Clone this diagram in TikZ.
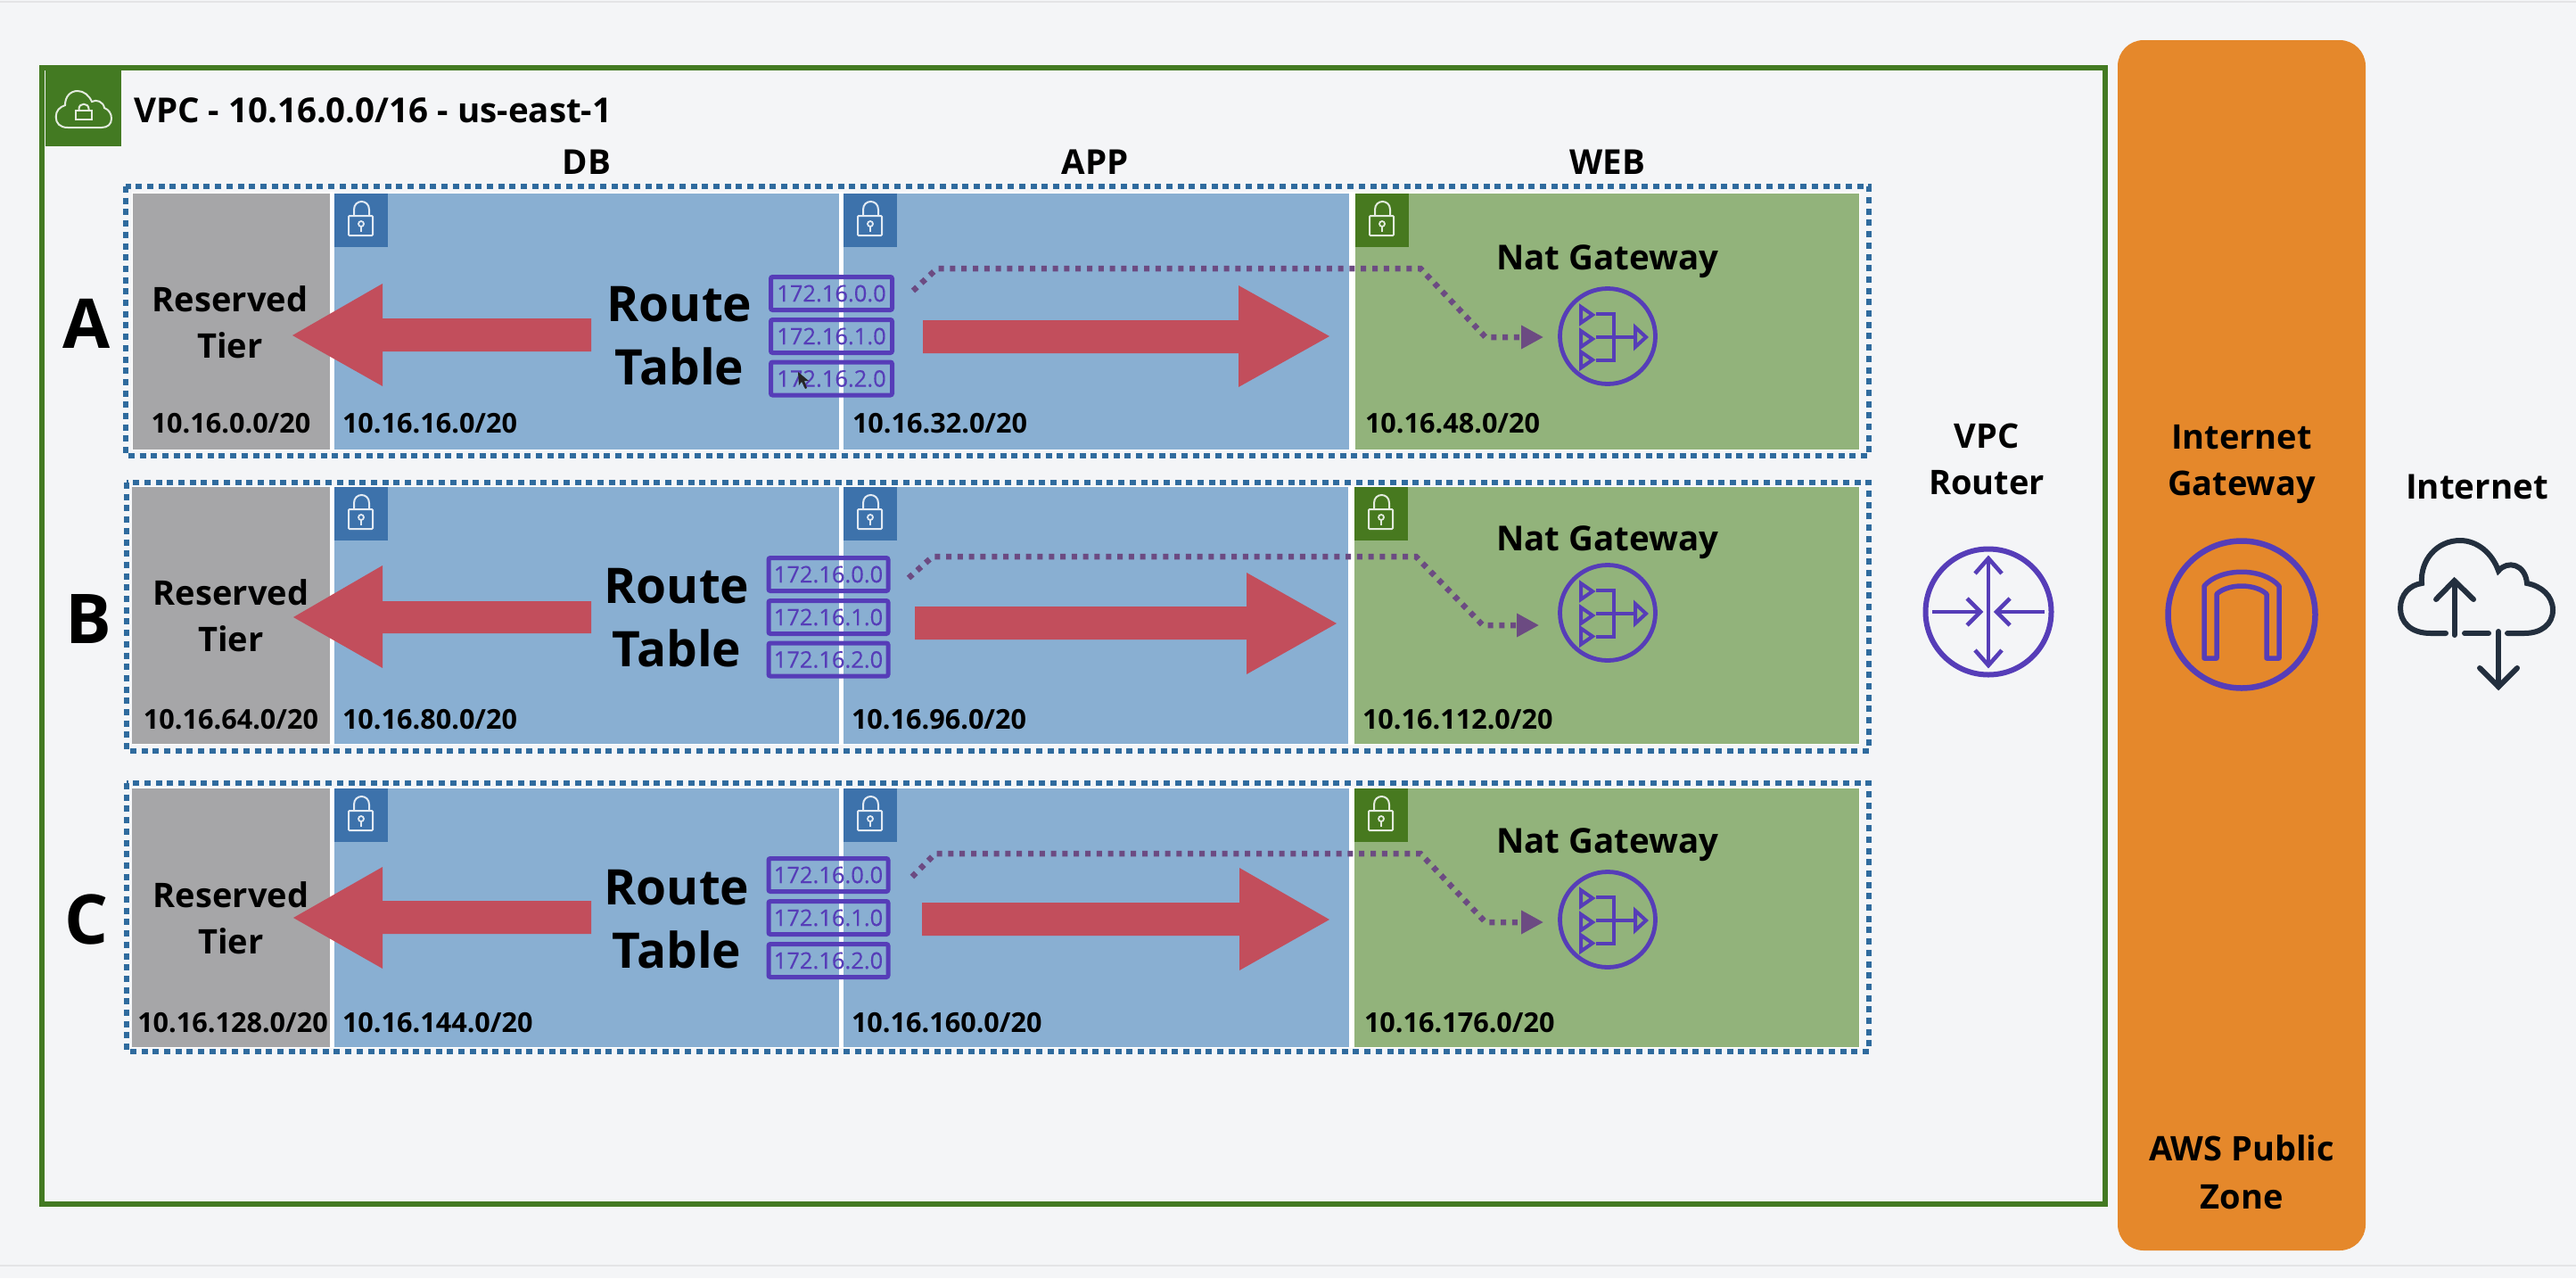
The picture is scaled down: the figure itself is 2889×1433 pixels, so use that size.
\documentclass[tikz,border=0pt]{standalone}
\usepackage{fontspec}
\setmainfont{Open Sans}
\newfontfamily\rtfont[FakeBold=0.35]{Open Sans}
\usetikzlibrary{arrows.meta}
\definecolor{pagebg}{HTML}{F4F5F7}
\definecolor{rulegray}{HTML}{E4E4E6}
\definecolor{vpcgreen}{HTML}{437A22}
\definecolor{rowblue}{HTML}{2F6B9E}
\definecolor{fillblue}{HTML}{89AFD2}
\definecolor{fillgreen}{HTML}{92B37B}
\definecolor{fillgray}{HTML}{A6A6A8}
\definecolor{lockblue}{HTML}{3D72AB}
\definecolor{lockgreen}{HTML}{47791F}
\definecolor{fatred}{HTML}{C24E5C}
\definecolor{awspurple}{HTML}{563DB8}
\definecolor{routepurple}{HTML}{6C4B82}
\definecolor{awsorange}{HTML}{E5882B}
\definecolor{inkdark}{HTML}{232F3E}
\newcommand{\fsz}[2]{\fontsize{#1}{#2}\selectfont}
\tikzset{
  x=1pt,y=-1pt,
  lbl/.style={inner sep=0pt,outer sep=0pt,text=black,font=\bfseries\fsz{#1}{#1}},
  lblbase/.style={lbl=#1,anchor=base},
  lblwest/.style={lbl=#1,anchor=base west},
  twoline/.style 2 args={inner sep=0pt,outer sep=0pt,text=black,align=center,font=\bfseries\fsz{#1}{#2}},
  rowdots/.style={draw=rowblue,line width=6pt,dash pattern=on 7pt off 5.7pt},
  sep/.style={fill=white},
  fatarrow/.style={fill=fatred},
  rtbox/.style={draw=awspurple,line width=5pt,minimum width=#1,minimum height=37pt,inner sep=0pt,rounded corners=2pt,text=awspurple,font=\rtfont\fsz{25.5}{25.5}},
  natring/.style={circle,draw=awspurple,line width=4.8pt,minimum size=107pt,inner sep=0pt},
  ring/.style={circle,draw=awspurple,line width=#1,inner sep=0pt},
  glyph/.style={draw=awspurple,line width=4.6pt},
  routeline/.style={draw=routepurple,line width=6.5pt,dash pattern=on 6pt off 6.8pt},
  pics/lockbox/.style={code={
    \fill[#1] (0,0) rectangle (60,60);
    \draw[white!85!#1,line width=2pt,rounded corners=1pt] (16,25) rectangle (43,47);
    \draw[white!85!#1,line width=2pt] (22,25) -- (22,18) .. controls (22,6) and (39,6) .. (39,18) -- (39,25);
    \draw[white!85!#1,line width=1.8pt] (30,34) circle (3);
    \draw[white!85!#1,line width=1.8pt] (30,37) -- (30,43);
  }},
  pics/natglyph/.style={code={
    \draw[glyph,line width=4pt,line join=miter] (-30,-33) -- (-17,-24) -- (-30,-15) -- cycle;
    \draw[glyph,line width=4pt,line join=miter] (-30,-6) -- (-17,3) -- (-30,12) -- cycle;
    \draw[glyph,line width=4pt,line join=miter] (-30,17.5) -- (-17,26.5) -- (-30,35.5) -- cycle;
    \draw[glyph,line width=4pt,line join=miter] (31,-10) -- (43,1) -- (31,12) -- cycle;
    \draw[glyph] (-13,-25) -- (7,-25) -- (7,27) -- (-13,27);
    \draw[glyph] (-13,1) -- (31,1);
  }},
}
\begin{document}
\begin{tikzpicture}
\useasboundingbox (0,0) rectangle (2889,1433);
\fill[pagebg] (0,0) rectangle (2889,1433);
\draw[rulegray,line width=2.5pt] (0,2) -- (2889,2);
\draw[rulegray,line width=2.5pt] (0,1419) -- (2889,1419);

% public zone
\fill[awsorange,rounded corners=29pt] (2375,45) rectangle (2653,1402);

% VPC frame and badge
\draw[vpcgreen,line width=6pt] (47,75.5) rectangle (2361,1350);
\fill[vpcgreen] (51,79) rectangle (136,164);
\draw[white!85!vpcgreen,line width=2pt] (76,143) .. controls (67,143) and (62.7,138) .. (62.7,131) .. controls (62.7,124) and (67,120) .. (73,118) .. controls (73,108) and (79,102) .. (87,102) .. controls (94,102) and (100,107) .. (103,114) .. controls (108,111) and (116,114) .. (117,121) .. controls (122,123) and (125,127) .. (125,133) .. controls (125,139) and (121,143) .. (114,143) -- cycle;
\draw[white!85!vpcgreen,line width=2pt] (85,124) rectangle (103,134);
\draw[white!85!vpcgreen,line width=2pt] (88.5,124) -- (88.5,122) .. controls (88.5,115) and (99.5,115) .. (99.5,122) -- (99.5,124);
\node[lblwest=38.5] (vpctitle) at (150,137) {VPC - 10.16.0.0/16 - us-east-1};
\node[lblbase=38.5] (hdb) at (658,195) {DB};
\node[lblbase=38.5] (happ) at (1228,195) {APP};
\node[lblbase=38.5] (hweb) at (1803,195) {WEB};

% ---------- row A
\draw[rowdots] (141,209) rectangle (2096,511);
\fill[sep] (148,215) rectangle (2086,505);
\fill[fillgray] (149,216.5) rectangle (370,504);
\fill[fillblue] (375,216.5) rectangle (941,504);
\fill[fillblue] (946,216.5) rectangle (1513,504);
\fill[fillgreen] (1520,216.5) rectangle (2085,504);
\pic at (375,217) {lockbox=lockblue};
\pic at (946,217) {lockbox=lockblue};
\pic at (1520,217) {lockbox=lockgreen};
\node[lblbase=77] (rowa) at (97,390) {A};
\node[twoline={38}{52}] (resa) at (258,361) {Reserved\\Tier};
\node[twoline={55}{71}] (rta) at (762,377) {Route\\Table};
\fill[fatarrow] (328,376) -- (429,318) -- (429,357) -- (663,357) -- (663,394) -- (429,394) -- (429,433) -- cycle;
\fill[fatarrow] (1035,359) -- (1389,359) -- (1389,320) -- (1491,377) -- (1389,434) -- (1389,396) -- (1035,396) -- cycle;
\node[rtbox=136pt] (rta1) at (932.5,329) {172.16.0.0};
\node[rtbox=136pt] (rta2) at (932.5,377) {172.16.1.0};
\node[rtbox=136pt] (rta3) at (932.5,424.5) {172.16.2.0};
\fill[black!85] (895,417) -- (896,432) -- (899,428) -- (903,436) -- (905,435) -- (902,427) -- (907,427) -- cycle;
\node[lblbase=38.5] (nata) at (1803,302) {Nat Gateway};
\node[natring] (nicona) at (1803,377) {};
\pic at (nicona) {natglyph};
\coordinate (aa) at (1024,326);
\coordinate (ab) at (1051,301);
\coordinate (ac) at (1593,301);
\coordinate (ad) at (1666,378);
\draw[routeline,-{Triangle[width=25pt,length=25pt]},shorten >=16pt] (aa) -- (ab) -- (ac) -- (ad) -- (ad -| nicona.west);
\node[lblbase=30.6] at (259,485) {10.16.0.0/20};
\node[lblwest=30.6] at (384,485) {10.16.16.0/20};
\node[lblwest=30.6] at (956,485) {10.16.32.0/20};
\node[lblwest=30.6] at (1531,485) {10.16.48.0/20};

% ---------- row B
\draw[rowdots] (142,541) rectangle (2096,842);
\fill[sep] (148,545) rectangle (2086,835);
\fill[fillgray] (148,546) rectangle (370,834);
\fill[fillblue] (375,546) rectangle (941,834);
\fill[fillblue] (946,546) rectangle (1512,834);
\fill[fillgreen] (1519,546) rectangle (2085,834);
\pic at (375,546) {lockbox=lockblue};
\pic at (946,546) {lockbox=lockblue};
\pic at (1519,546) {lockbox=lockgreen};
\node[lblbase=77] (rowb) at (99,721) {B};
\node[twoline={38}{52}] (resb) at (259,690) {Reserved\\Tier};
\node[twoline={55}{71}] (rtb) at (759,693) {Route\\Table};
\fill[fatarrow] (329,692) -- (429,634) -- (429,674) -- (663,674) -- (663,710) -- (429,710) -- (429,749) -- cycle;
\fill[fatarrow] (1026,680) -- (1398,680) -- (1398,642) -- (1499,699) -- (1398,756) -- (1398,717) -- (1026,717) -- cycle;
\node[rtbox=134pt] (rtb1) at (929,644) {172.16.0.0};
\node[rtbox=134pt] (rtb2) at (929,692) {172.16.1.0};
\node[rtbox=134pt] (rtb3) at (929,739.5) {172.16.2.0};
\node[lblbase=38.5] (natb) at (1803,617) {Nat Gateway};
\node[natring] (niconb) at (1803,687) {};
\pic at (niconb) {natglyph};
\coordinate (ba) at (1019,648);
\coordinate (bb) at (1046,624);
\coordinate (bc) at (1588,624);
\coordinate (bd) at (1663,701);
\draw[routeline,-{Triangle[width=25pt,length=25pt]},shorten >=21pt] (ba) -- (bb) -- (bc) -- (bd) -- (bd -| niconb.west);
\node[lblbase=30.6] at (259,817) {10.16.64.0/20};
\node[lblwest=30.6] at (384,817) {10.16.80.0/20};
\node[lblwest=30.6] at (955,817) {10.16.96.0/20};
\node[lblwest=30.6] at (1528,817) {10.16.112.0/20};

% ---------- row C
\draw[rowdots] (142,878) rectangle (2096,1179);
\fill[sep] (148,883) rectangle (2086,1175);
\fill[fillgray] (148,884) rectangle (370,1174);
\fill[fillblue] (375,884) rectangle (941,1174);
\fill[fillblue] (946,884) rectangle (1513,1174);
\fill[fillgreen] (1519,884) rectangle (2085,1174);
\pic at (375,884) {lockbox=lockblue};
\pic at (946,884) {lockbox=lockblue};
\pic at (1519,884) {lockbox=lockgreen};
\node[lblbase=77] (rowc) at (97,1058) {C};
\node[twoline={38}{52}] (resc) at (259,1029) {Reserved\\Tier};
\node[twoline={55}{71}] (rtc) at (759,1031) {Route\\Table};
\fill[fatarrow] (329,1029) -- (429,972) -- (429,1010) -- (663,1010) -- (663,1047) -- (429,1047) -- (429,1086) -- cycle;
\fill[fatarrow] (1034,1012) -- (1390,1012) -- (1390,973) -- (1491,1031) -- (1390,1088) -- (1390,1049) -- (1034,1049) -- cycle;
\node[rtbox=134pt] (rtc1) at (929,981) {172.16.0.0};
\node[rtbox=134pt] (rtc2) at (929,1029) {172.16.1.0};
\node[rtbox=134pt] (rtc3) at (929,1077) {172.16.2.0};
\node[lblbase=38.5] (natc) at (1803,956) {Nat Gateway};
\node[natring] (niconc) at (1803,1031) {};
\pic at (niconc) {natglyph};
\coordinate (ca) at (1023,983);
\coordinate (cb) at (1049,957);
\coordinate (cc) at (1593,957);
\coordinate (cd) at (1666,1034);
\draw[routeline,-{Triangle[width=25pt,length=25pt]},shorten >=16pt] (ca) -- (cb) -- (cc) -- (cd) -- (cd -| niconc.west);
\node[lblbase=30.6] at (261,1157) {10.16.128.0/20};
\node[lblwest=30.6] at (384,1157) {10.16.144.0/20};
\node[lblwest=30.6] at (955,1157) {10.16.160.0/20};
\node[lblwest=30.6] at (1530,1157) {10.16.176.0/20};

% ---------- VPC router
\node[twoline={38}{52}] (vrt) at (2228,514.5) {VPC\\Router};
\node[ring=6pt,minimum size=141pt] (router) at (2230,686) {};
\begin{scope}[shift={(router.center)}]
  \draw[glyph] (0,-59) -- (0,59);
  \draw[glyph] (-15,-43) -- (0,-60) -- (15,-43);
  \draw[glyph] (-15,43) -- (0,60) -- (15,43);
  \draw[glyph] (-63,0) -- (-9,0);
  \draw[glyph] (-24,-15) -- (-9,0) -- (-24,15);
  \draw[glyph] (63,0) -- (9,0);
  \draw[glyph] (24,-15) -- (9,0) -- (24,15);
\end{scope}

% ---------- internet gateway
\node[twoline={38}{52}] (igwt) at (2514,520) {Internet\\Gateway};
\node[ring=6.5pt,minimum size=165pt] (igw) at (2514,689) {};
\draw[awspurple,line width=5.5pt,line join=round,shift={(igw.center)}] (-42,49) -- (-42,-32) .. controls (-24,-53) and (24,-53) .. (42,-32) -- (42,49) -- (28,49) -- (28,-23) .. controls (15,-35) and (-15,-35) .. (-28,-23) -- (-28,49) -- cycle;
\node[twoline={38}{54}] (pubz) at (2514,1314) {AWS Public\\Zone};

% ---------- internet
\node[lblbase=38.5] (inet) at (2778,559) {Internet};
\begin{scope}[inkdark,line width=6pt,line cap=round]
\draw (2743,710) -- (2726,710) .. controls (2703,710) and (2692,697) .. (2692,682) .. controls (2692,667) and (2702,656) .. (2716,654) .. controls (2714,628) and (2733,606) .. (2759,606) .. controls (2778,606) and (2795,620) .. (2802,640) .. controls (2812,628) and (2832,632) .. (2834,654) .. controls (2850,657) and (2863,668) .. (2863,684) .. controls (2863,700) and (2850,710) .. (2831,710) -- (2812,710);
\draw (2764,710) -- (2791,710);
\draw (2752.5,712) -- (2752.5,652);
\draw (2732,672) -- (2752.5,651) -- (2774,672);
\draw (2802,708) -- (2802,770);
\draw (2781,749) -- (2802,770) -- (2823,749);
\end{scope}
\end{tikzpicture}
\end{document}
